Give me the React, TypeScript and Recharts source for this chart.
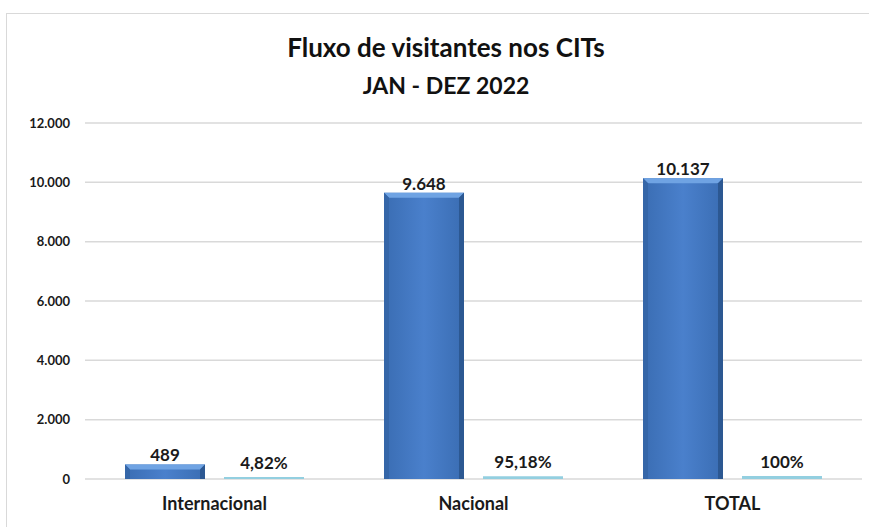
import React from 'react';
import { BarChart, Bar, XAxis, YAxis, CartesianGrid, LabelList } from 'recharts';

const categories = ['Internacional', 'Nacional', 'TOTAL'];
const visitantes = [489, 9648, 10137];
const percentuais = [4.82, 95.18, 100];
const yTicks = [0, 2000, 4000, 6000, 8000, 10000, 12000];

const chartData = categories.map((name, i) => ({
  name,
  visitantes: visitantes[i],
  percentual: percentuais[i],
}));

const FONT = 'Lato, "Open Sans", sans-serif';

// 12000 -> "12.000"
const fmtMil = (v: number) => String(Math.round(v)).replace(/\B(?=(\d{3})+(?!\d))/g, '.');
const fmtPct = (v: number) => String(v).replace('.', ',') + '%';

const BevelBar = (props: any) => {
  const { x, y, width, height } = props;
  if (!height || height <= 0) return null;
  const b = Math.min(5, height / 2);
  return (
    <g>
      <rect x={x} y={y} width={width} height={height} fill="url(#barFace)" />
      <polygon
        points={`${x},${y} ${x + width},${y} ${x + width - b},${y + b} ${x + b},${y + b}`}
        fill="#6fa3e3"
      />
      <polygon
        points={`${x},${y} ${x + b},${y + b} ${x + b},${y + height} ${x},${y + height}`}
        fill="#3566a8"
      />
      <polygon
        points={`${x + width},${y} ${x + width - b},${y + b} ${x + width - b},${y + height} ${x + width},${y + height}`}
        fill="#2c5892"
      />
    </g>
  );
};

export default function App() {
  return (
    <div style={{ position: 'absolute', left: 0, top: 0, width: 869, height: 527, background: '#fff', overflow: 'hidden' }}>
      <div
        style={{
          position: 'absolute', left: 6, top: 13, width: 880, height: 540,
          border: '1px solid #d9d9d9', boxSizing: 'border-box',
        }}
      />
      <div
        style={{
          position: 'absolute', left: 0, top: 28, width: 892, textAlign: 'center',
          fontFamily: FONT, fontWeight: 700, color: '#111', lineHeight: '38px',
        }}
      >
        <div style={{ fontSize: 26 }}>Fluxo de visitantes nos CITs</div>
        <div style={{ fontSize: 23 }}>JAN - DEZ 2022</div>
      </div>
      <div style={{ position: 'absolute', left: 0, top: 0 }}>
        <BarChart
          width={869}
          height={527}
          data={chartData}
          margin={{ top: 123, right: 7, left: 0, bottom: 0 }}
          barCategoryGap="15.4%"
          barGap={19}
        >
          <defs>
            <linearGradient id="barFace" x1="0" y1="0" x2="1" y2="0">
              <stop offset="0%" stopColor="#3a6db3" />
              <stop offset="50%" stopColor="#4a80cc" />
              <stop offset="100%" stopColor="#3a6db3" />
            </linearGradient>
          </defs>
          <CartesianGrid vertical={false} stroke="#d9d9d9" strokeWidth={1.5} />
          <XAxis
            dataKey="name"
            axisLine={false}
            tickLine={false}
            tickSize={0}
            tickMargin={18}
            height={48}
            tick={{ fontSize: 18, fontWeight: 700, fill: '#1a1a1a', fontFamily: FONT }}
          />
          <YAxis
            domain={[0, 12000]}
            ticks={yTicks}
            width={85}
            axisLine={false}
            tickLine={false}
            tickSize={0}
            tickMargin={15}
            tickFormatter={fmtMil}
            tick={{ fontSize: 13, fontWeight: 700, fill: '#1a1a1a', fontFamily: FONT }}
          />
          <Bar dataKey="visitantes" barSize={80} shape={<BevelBar />} isAnimationActive={false}>
            <LabelList
              dataKey="visitantes"
              position="top"
              offset={3}
              formatter={(v: any) => fmtMil(Number(v))}
              style={{ fontSize: 17, fontWeight: 700, fill: '#1a1a1a', fontFamily: FONT }}
            />
          </Bar>
          <Bar dataKey="percentual" barSize={80} fill="#93cfe0" minPointSize={2} isAnimationActive={false}>
            <LabelList
              dataKey="percentual"
              position="top"
              offset={8}
              formatter={(v: any) => fmtPct(Number(v))}
              style={{ fontSize: 17, fontWeight: 700, fill: '#1a1a1a', fontFamily: FONT }}
            />
          </Bar>
        </BarChart>
      </div>
    </div>
  );
}
